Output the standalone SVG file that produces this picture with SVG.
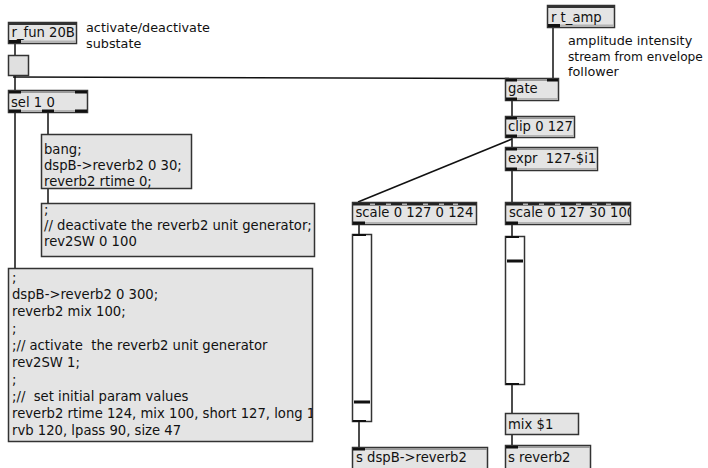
<svg xmlns="http://www.w3.org/2000/svg" width="708" height="468" viewBox="0 0 708 468">
<style>
text{font-family:"DejaVu Sans","Liberation Sans",sans-serif;font-size:13.2px;fill:#111;white-space:pre}
.cm{font-size:12.8px}
.obj{fill:#e4e4e4;stroke:#333;stroke-width:1.5}
.msg{fill:#e4e4e4;stroke:#333;stroke-width:1.5}
.bt{fill:#9a9a9a}
.bb{fill:#b4b4b4}
.io{fill:#111}
.sl{fill:#fff;stroke:#333;stroke-width:1.5}
.tg{fill:#e0e0e0;stroke:#333;stroke-width:1.5}
.wire{stroke:#111;stroke-width:1.5;fill:none}
</style>
<defs>
<clipPath id="cClip"><rect x="505" y="116" width="69" height="22"/></clipPath>
<clipPath id="cExpr"><rect x="505" y="147" width="92" height="24"/></clipPath>
<clipPath id="cScale2"><rect x="505" y="202" width="125" height="23"/></clipPath>
<clipPath id="cBig"><rect x="8" y="268" width="304" height="174"/></clipPath>
</defs>

<g id="connectors">
<line class="wire" x1="15" y1="43" x2="15" y2="55"/>
<line class="wire" x1="15" y1="76" x2="15" y2="90"/>
<line class="wire" x1="13" y1="77" x2="512" y2="78.5"/>
<line class="wire" x1="15" y1="113" x2="15" y2="268"/>
<line class="wire" x1="48" y1="113" x2="48" y2="134"/>
<line class="wire" x1="48" y1="189" x2="48" y2="203"/>
<line class="wire" x1="553" y1="28" x2="553" y2="78"/>
<line class="wire" x1="512" y1="101" x2="512" y2="116"/>
<line class="wire" x1="512" y1="138" x2="512" y2="147"/>
<line class="wire" x1="512" y1="139" x2="358" y2="202"/>
<line class="wire" x1="512" y1="171" x2="512" y2="202"/>
<line class="wire" x1="359" y1="225" x2="359" y2="234"/>
<line class="wire" x1="512" y1="225" x2="512" y2="236"/>
<line class="wire" x1="359" y1="422" x2="359" y2="447"/>
<line class="wire" x1="512" y1="385" x2="512" y2="413"/>
<line class="wire" x1="512" y1="435" x2="512" y2="445"/>
</g>

<g id="r_fun">
<rect class="obj" x="8.5" y="22.5" width="68" height="21"/>
<rect x="9" y="23" width="67" height="2" fill="#333"/>
<rect class="bb" x="9" y="40.5" width="67" height="2"/>
<rect class="io" x="9" y="40" width="12" height="3"/>
<text x="11.5" y="37">r_fun 20B</text>
</g>

<g id="comment_activate">
<text class="cm" x="86" y="32">activate/deactivate</text>
<text class="cm" x="86" y="48">substate</text>
</g>

<g id="toggle">
<rect class="tg" x="8.5" y="55.5" width="20" height="20"/>
</g>

<g id="sel">
<rect class="obj" x="8.5" y="90.5" width="79" height="22"/>
<rect class="bt" x="9" y="91" width="78" height="2"/>
<rect class="io" x="9" y="91" width="12" height="2.5"/>
<rect class="io" x="75" y="91" width="12" height="2.5"/>
<rect class="bb" x="9" y="110" width="78" height="2"/>
<rect class="io" x="9" y="109.5" width="12" height="3"/>
<rect class="io" x="42" y="109.5" width="12" height="3"/>
<rect class="io" x="75" y="109.5" width="12" height="3"/>
<text x="11" y="107">sel 1 0</text>
</g>

<g id="msg_bang">
<rect class="msg" x="41.5" y="134.5" width="150" height="54"/>
<text x="44" y="153.5">bang;</text>
<text x="44" y="170">dspB-&gt;reverb2 0 30;</text>
<text x="44" y="186">reverb2 rtime 0;</text>
</g>

<g id="msg_deactivate">
<rect class="msg" x="41.5" y="203.5" width="273" height="53"/>
<text x="44" y="214">;</text>
<text x="44" y="230">// deactivate the reverb2 unit generator;</text>
<text x="44" y="246">rev2SW 0 100</text>
</g>

<g id="msg_activate">
<rect class="msg" x="8.5" y="268.5" width="304" height="173"/>
<g clip-path="url(#cBig)">
<text x="12" y="282">;</text>
<text x="12" y="299">dspB-&gt;reverb2 0 300;</text>
<text x="12" y="316">reverb2 mix 100;</text>
<text x="12" y="333">;</text>
<text x="12" y="350">;// activate  the reverb2 unit generator</text>
<text x="12" y="367">rev2SW 1;</text>
<text x="12" y="384">;</text>
<text x="12" y="401">;//  set initial param values</text>
<text x="12" y="418">reverb2 rtime 124, mix 100, short 127, long 1</text>
<text x="12" y="435">rvb 120, lpass 90, size 47</text>
</g>
</g>

<g id="r_t_amp">
<rect class="obj" x="547.5" y="5.5" width="67" height="22"/>
<rect x="548" y="6" width="66" height="2" fill="#333"/>
<rect class="bb" x="548" y="24.5" width="66" height="2"/>
<rect class="io" x="548" y="24" width="12" height="3"/>
<text x="551" y="22">r t_amp</text>
</g>

<g id="comment_amplitude">
<text class="cm" x="568" y="44.5">amplitude intensity</text>
<text class="cm" x="568" y="60.5" style="font-size:12.2px">stream from envelope</text>
<text class="cm" x="568" y="76">follower</text>
</g>

<g id="gate">
<rect class="obj" x="505.5" y="78.5" width="53" height="22"/>
<rect class="bt" x="506" y="79" width="52" height="2"/>
<rect class="io" x="506" y="79" width="11" height="2.5"/>
<rect class="io" x="547" y="79" width="11" height="2.5"/>
<rect class="bb" x="506" y="98" width="52" height="2"/>
<rect class="io" x="506" y="97.5" width="11" height="3"/>
<text x="508" y="93">gate</text>
</g>

<g id="clip">
<rect class="obj" x="505.5" y="116.5" width="69" height="21"/>
<rect class="bt" x="506" y="117" width="68" height="2"/>
<rect class="io" x="506" y="117" width="11" height="2.5"/>
<rect class="bb" x="506" y="135" width="68" height="2"/>
<rect class="io" x="506" y="134.5" width="11" height="3"/>
<text x="508" y="131" clip-path="url(#cClip)">clip 0 127</text>
</g>

<g id="expr">
<rect class="obj" x="505.5" y="147.5" width="92" height="23"/>
<rect class="bt" x="506" y="148" width="91" height="2"/>
<rect class="io" x="506" y="148" width="11" height="2.5"/>
<rect class="bb" x="506" y="168" width="91" height="2"/>
<rect class="io" x="506" y="167.5" width="11" height="3"/>
<text x="508" y="163" clip-path="url(#cExpr)">expr  127-$i1</text>
</g>

<g id="scale1">
<rect class="obj" x="352.5" y="202.5" width="124" height="22"/>
<rect x="353" y="203" width="123" height="2.5" fill="#222"/>
<rect class="bb" x="370" y="203.5" width="5" height="1.5"/>
<rect class="bb" x="386" y="203.5" width="5" height="1.5"/>
<rect class="bb" x="402" y="203.5" width="5" height="1.5"/>
<rect class="bb" x="423" y="203.5" width="5" height="1.5"/>
<rect class="bb" x="439" y="203.5" width="5" height="1.5"/>
<rect class="bb" x="453" y="203.5" width="5" height="1.5"/>
<rect class="bb" x="353" y="222" width="123" height="2"/>
<rect class="io" x="353" y="221.5" width="12" height="3"/>
<text x="355.5" y="217">scale 0 127 0 124</text>
</g>

<g id="scale2">
<rect class="obj" x="505.5" y="202.5" width="125" height="22"/>
<rect x="506" y="203" width="124" height="2.5" fill="#222"/>
<rect class="bb" x="523" y="203.5" width="5" height="1.5"/>
<rect class="bb" x="539" y="203.5" width="5" height="1.5"/>
<rect class="bb" x="555" y="203.5" width="5" height="1.5"/>
<rect class="bb" x="576" y="203.5" width="5" height="1.5"/>
<rect class="bb" x="592" y="203.5" width="5" height="1.5"/>
<rect class="bb" x="606" y="203.5" width="5" height="1.5"/>
<rect class="bb" x="506" y="222" width="124" height="2"/>
<rect class="io" x="506" y="221.5" width="12" height="3"/>
<text x="509" y="217" clip-path="url(#cScale2)">scale 0 127 30 100</text>
</g>

<g id="slider1">
<rect class="sl" x="352.5" y="234.5" width="19" height="187"/>
<rect class="io" x="353" y="234" width="13" height="2"/>
<rect class="io" x="353" y="420" width="13" height="2"/>
<rect class="io" x="354" y="400.5" width="16" height="3"/>
</g>

<g id="slider2">
<rect class="sl" x="505.5" y="236.5" width="19" height="148"/>
<rect class="io" x="506" y="236" width="13" height="2"/>
<rect class="io" x="506" y="383" width="13" height="2"/>
<rect class="io" x="507" y="259.5" width="16" height="3"/>
</g>

<g id="msg_mix">
<rect class="msg" x="505.5" y="413.5" width="73" height="21"/>
<text x="508" y="429">mix $1</text>
</g>

<g id="s_dspB">
<rect class="obj" x="352.5" y="447.5" width="135" height="24"/>
<rect class="bt" x="353" y="448" width="134" height="2"/>
<rect class="io" x="353" y="448" width="12" height="2.5"/>
<text x="356" y="462">s dspB-&gt;reverb2</text>
</g>

<g id="s_reverb2">
<rect class="obj" x="505.5" y="445.5" width="85" height="26"/>
<rect class="bt" x="506" y="446" width="84" height="2"/>
<rect class="io" x="506" y="446" width="12" height="2.5"/>
<text x="508" y="461.5">s reverb2</text>
</g>
</svg>
